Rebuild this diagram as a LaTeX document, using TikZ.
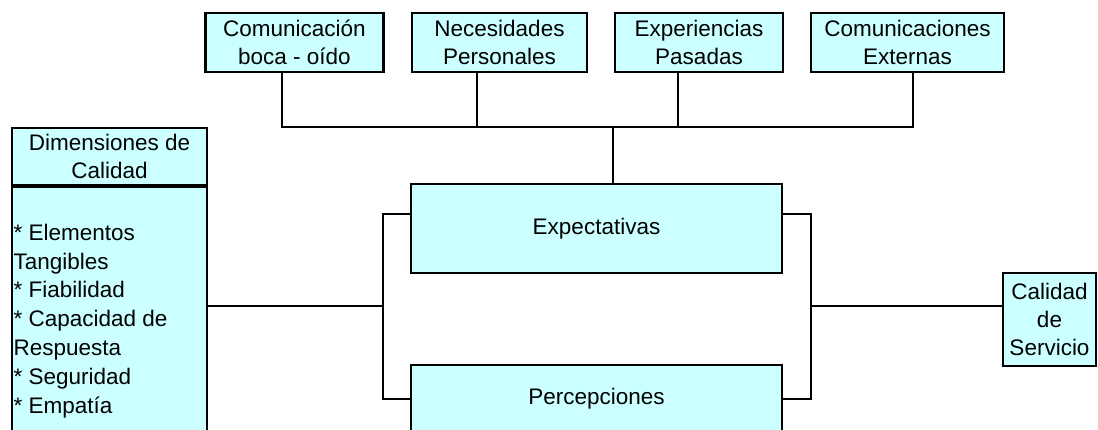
\documentclass[tikz,border=0pt]{standalone}
\usepackage{fontspec}
\setmainfont{Liberation Sans}
\usepackage{tikz}
\definecolor{celeste}{HTML}{CCFFFF}

\begin{document}
\begin{tikzpicture}[x=1pt,y=-1pt,main node/.style={draw,fill=celeste,line width=2.9pt,align=center,inner sep=0pt,font=\fontsize{22.5}{28.2}\selectfont},thin line/.style={line width=1.4pt},thick line/.style={line width=2.9pt}]
    \useasboundingbox (0,0) rectangle (1098,430);

    \node[main node,minimum width=178,minimum height=59] (1) at (294.5,42.5) {Comunicación\\boca - oído};
    \node[main node,minimum width=175,minimum height=59] (2) at (499.5,42.5) {Necesidades\\Personales};
    \node[main node,minimum width=168,minimum height=59] (3) at (699,42.5) {Experiencias\\Pasadas};
    \node[main node,minimum width=193,minimum height=59] (4) at (907.5,42.5) {Comunicaciones\\Externas};
    \node[main node,minimum width=371,minimum height=89] (5) at (596.5,228.5) {Expectativas};
    \node[main node,minimum width=371,minimum height=68] (6) at (596.5,399) {Percepciones};
    \node[main node,minimum width=195,minimum height=57] (7) at (109.5,156.5) {Dimensiones de\\Calidad};
    \node[main node,anchor=north,minimum width=195,minimum height=300] (8) at (109.5,185)
        [label={[anchor=north west,align=left,inner xsep=3pt,inner ysep=39pt,outer sep=0pt,font=\fontsize{22.5}{28.8}\selectfont]north west:{* Elementos\\Tangibles\\* Fiabilidad\\* Capacidad de\\Respuesta\\* Seguridad\\* Empatía}}] {};
    \node[main node,minimum width=93,minimum height=93] (9) at (1049.5,319.5) {Calidad\\de\\Servicio};

    \coordinate (b) at (613,127);
    \coordinate (l) at (383,306);
    \coordinate (r) at (811,306);

    \draw[thin line] ([xshift=-12.5pt]1.south) |- (b) -| ([xshift=5.5pt]4.south);
    \draw[thin line] ([xshift=-22.5pt]2.south) |- (b);
    \draw[thin line] ([xshift=-21pt]3.south) |- (b);
    \draw[thin line] (b) -- (b |- 5.north);

    \draw[thick line] ([yshift=14.5pt]5.west) -| (l) |- (6.west);
    \draw[thick line] (l) -- (l -| 8.east);
    \draw[thick line] ([yshift=14.5pt]5.east) -| (r) |- (6.east);
    \draw[thick line] (r) -- (r -| 9.west);

\end{tikzpicture}
\end{document}
